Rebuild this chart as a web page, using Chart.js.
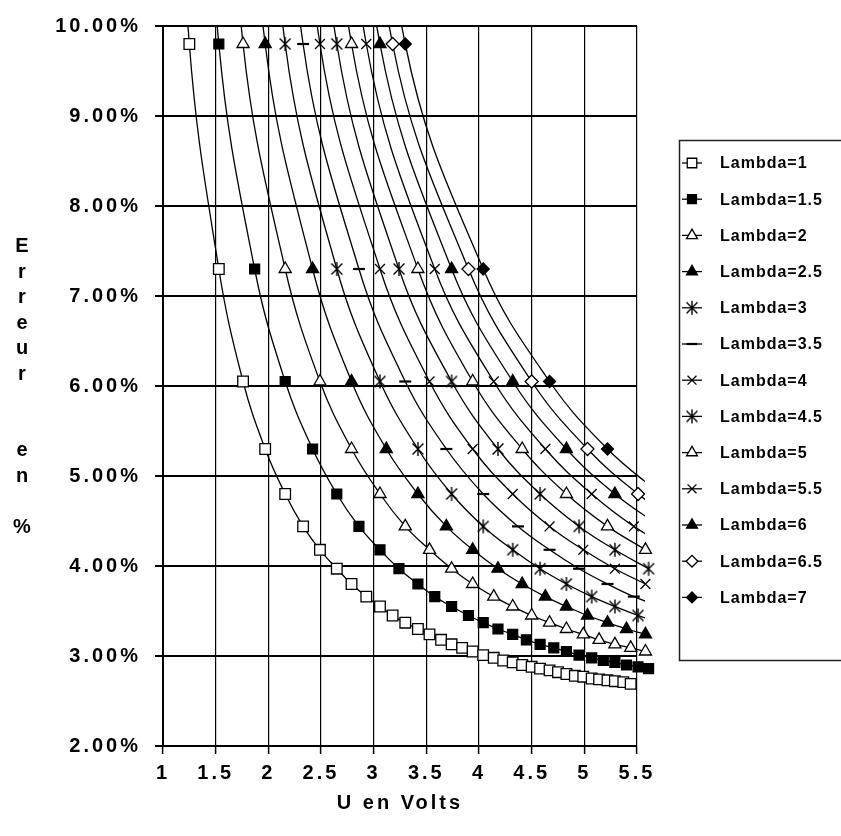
<!DOCTYPE html>
<html><head><meta charset="utf-8">
<script src="https://cdn.jsdelivr.net/npm/chart.js@4.4.1/dist/chart.umd.min.js"></script>
<style>html,body{margin:0;padding:0;background:#fff;}canvas{display:block;}</style>
</head><body>
<canvas id="c" width="841" height="836"></canvas>
<script>
// ---- data ----
const lambdas = [1, 1.5, 2, 2.5, 3, 3.5, 4, 4.5, 5, 5.5, 6, 6.5, 7];
// shared error levels (%) of the successive points of every curve
const errorPct = [17.3, 9.8, 7.3, 6.05, 5.3, 4.8, 4.44, 4.18, 3.97, 3.8, 3.66, 3.55, 3.45, 3.37, 3.3,
  3.24, 3.18, 3.13, 3.09, 3.05, 3.01, 2.98, 2.95, 2.93, 2.9, 2.88, 2.86, 2.84, 2.82, 2.8,
  2.78, 2.77, 2.75, 2.74, 2.73, 2.72, 2.71, 2.69];
// U (Volts) of each point, per Lambda (a value beyond ~5.65 V only shows as a line leaving the frame)
const uL1   = [0.88, 1.25, 1.53, 1.76, 1.97, 2.16, 2.33, 2.49, 2.65, 2.79, 2.93, 3.06, 3.18, 3.30, 3.42, 3.53, 3.64, 3.74, 3.84, 3.94, 4.04, 4.14, 4.23, 4.32, 4.41, 4.50, 4.58, 4.67, 4.75, 4.83, 4.91, 4.99, 5.07, 5.14, 5.22, 5.29, 5.37, 5.44];
const uL1_5 = [1.08, 1.53, 1.87, 2.16, 2.42, 2.65, 2.86, 3.06, 3.24, 3.42, 3.58, 3.74, 3.90, 4.04, 4.18, 4.32, 4.45, 4.58, 4.71, 4.83, 4.95, 5.07, 5.18, 5.29, 5.40, 5.51, 5.61];
const uL2   = [1.25, 1.76, 2.16, 2.49, 2.79, 3.06, 3.30, 3.53, 3.74, 3.94, 4.14, 4.32, 4.50, 4.67, 4.83, 4.99, 5.14, 5.29, 5.44, 5.58];
const uL2_5 = [1.39, 1.97, 2.42, 2.79, 3.12, 3.42, 3.69, 3.94, 4.18, 4.41, 4.63, 4.83, 5.03, 5.22, 5.40, 5.58];
const uL3   = [1.53, 2.16, 2.65, 3.06, 3.42, 3.74, 4.04, 4.32, 4.58, 4.83, 5.07, 5.29, 5.51, 5.72];
const uL3_5 = [1.65, 2.33, 2.86, 3.30, 3.69, 4.04, 4.37, 4.67, 4.95, 5.22, 5.47, 5.72];
const uL4   = [1.76, 2.49, 3.06, 3.53, 3.94, 4.32, 4.67, 4.99, 5.29, 5.58];
const uL4_5 = [1.87, 2.65, 3.24, 3.74, 4.18, 4.58, 4.95, 5.29, 5.61];
const uL5   = [1.97, 2.79, 3.42, 3.94, 4.41, 4.83, 5.22, 5.58];
const uL5_5 = [2.07, 2.93, 3.58, 4.14, 4.63, 5.07, 5.47, 5.85];
const uL6   = [2.16, 3.06, 3.74, 4.32, 4.83, 5.29, 5.72];
const uL6_5 = [2.25, 3.18, 3.90, 4.50, 5.03, 5.51, 5.95];
const uL7   = [2.33, 3.30, 4.04, 4.67, 5.22, 5.72];
const uSeries = [uL1, uL1_5, uL2, uL2_5, uL3, uL3_5, uL4, uL4_5, uL5, uL5_5, uL6, uL6_5, uL7];

const xMin = 1, xMax = 5.5, xStep = 0.5;
const yMin = 2, yMax = 10, yStep = 1;
const markerMaxU = 5.65;
const xTitle = 'U en Volts';
const yTitleLines = ['E', 'r', 'r', 'e', 'u', 'r', '', '', 'e', 'n', '', '%'];

// ---- styles ----
const FONT = 'Liberation Sans';
const RIGHT_OVERFLOW = 24;
function makeAsterisk(size, lw) {
  const c = document.createElement('canvas');
  c.width = size; c.height = size;
  const g = c.getContext('2d');
  g.strokeStyle = '#000'; g.lineWidth = lw;
  const m = size / 2, r = size / 2 - 1, d = r * 0.78;
  g.beginPath();
  g.moveTo(m - d, m - d); g.lineTo(m + d, m + d);
  g.moveTo(m + d, m - d); g.lineTo(m - d, m + d);
  g.moveTo(m, m - r); g.lineTo(m, m + r);
  g.stroke();
  return c;
}
const asterisk = makeAsterisk(16, 1.4);
const markerStyles = [
  {ps: 'rect', r: 7.5, fill: '#fff'},
  {ps: 'rect', r: 7, fill: '#000'},
  {ps: 'triangle', r: 7, fill: '#fff'},
  {ps: 'triangle', r: 7, fill: '#000'},
  {ps: asterisk, r: 7, fill: '#000'},
  {ps: 'line', r: 6, fill: '#000', bw: 2.2},
  {ps: 'crossRot', r: 7, fill: '#000'},
  {ps: asterisk, r: 7, fill: '#000'},
  {ps: 'triangle', r: 7, fill: '#fff'},
  {ps: 'crossRot', r: 7, fill: '#000'},
  {ps: 'triangle', r: 7, fill: '#000'},
  {ps: 'rectRot', r: 6.5, fill: '#fff'},
  {ps: 'rectRot', r: 6, fill: '#000'}
];

const datasets = lambdas.map((lam, i) => {
  const st = markerStyles[i];
  const u = uSeries[i];
  const leavesFrame = u[u.length - 1] > markerMaxU;
  return {
    label: 'Lambda=' + lam,
    data: u.map((v, k) => ({x: v, y: errorPct[k]})),
    borderColor: '#000',
    borderWidth: 1.3,
    backgroundColor: st.fill,
    pointStyle: st.ps,
    pointRadius: c => (c.raw && c.raw.x > markerMaxU) ? 0 : st.r,
    pointHoverRadius: c => (c.raw && c.raw.x > markerMaxU) ? 0 : st.r,
    pointBackgroundColor: st.fill,
    pointBorderColor: '#000',
    pointBorderWidth: st.bw || 1.3,
    tension: 0.4,
    fill: false,
    clip: {left: 0, top: 0, right: leavesFrame ? 8 : RIGHT_OVERFLOW, bottom: 0}
  };
});

const spacingPlugin = {
  id: 'spacing',
  beforeDraw(chart) { chart.ctx.letterSpacing = '3px'; },
  beforeDatasetsDraw(chart) {
    chart.ctx.letterSpacing = '0px';
    // let the last markers (U slightly above 5.5) show beyond the right border, as in the original
    chart.chartArea.right += RIGHT_OVERFLOW;
  },
  afterDatasetsDraw(chart) { chart.chartArea.right -= RIGHT_OVERFLOW; }
};

const decorPlugin = {
  id: 'decor',
  afterDraw(chart) {
    const ctx = chart.ctx;
    ctx.save();
    ctx.letterSpacing = '0px';
    ctx.fillStyle = '#000';
    ctx.font = 'bold 20px "' + FONT + '"';
    ctx.textAlign = 'center';
    ctx.textBaseline = 'alphabetic';
    yTitleLines.forEach((t, i) => { if (t) ctx.fillText(t, 22, 252 + i * 25.5); });

    // legend
    const lx = 679, ly = 140, lw = 200, lh = 520;
    ctx.strokeStyle = '#222';
    ctx.lineWidth = 1.5;
    ctx.strokeRect(lx + 0.5, ly + 0.5, lw, lh);
    ctx.font = 'bold 16px "' + FONT + '"';
    ctx.letterSpacing = '1px';
    ctx.textAlign = 'left';
    ctx.textBaseline = 'middle';
    chart.data.datasets.forEach((ds, i) => {
      const st = markerStyles[i];
      const y = 163 + i * 36.2;
      ctx.strokeStyle = '#000';
      ctx.lineWidth = 1.3;
      ctx.beginPath(); ctx.moveTo(682, y); ctx.lineTo(702, y); ctx.stroke();
      ctx.fillStyle = st.fill;
      ctx.lineWidth = ds.pointBorderWidth;
      Chart.helpers.drawPoint(ctx, {pointStyle: st.ps, radius: st.r * 0.9, rotation: 0, borderWidth: ds.pointBorderWidth}, 692, y);
      ctx.fillStyle = '#000';
      ctx.fillText(ds.label, 720, y + 1);
    });
    ctx.restore();
  }
};

const tickFont = {family: FONT, weight: 'bold', size: 20};
new Chart(document.getElementById('c'), {
  type: 'line',
  data: {datasets},
  options: {
    responsive: false,
    animation: false,
    events: [],
    layout: {padding: {top: 20, right: 204, bottom: 0, left: 0}},
    elements: {line: {capBezierPoints: false}},
    plugins: {legend: {display: false}, tooltip: {enabled: false}},
    scales: {
      x: {
        type: 'linear',
        afterDataLimits: s => { s.min = xMin; s.max = xMax; },
        ticks: {stepSize: xStep, autoSkip: false, maxRotation: 0, color: '#000', font: tickFont, padding: 7,
          callback: v => String(v)},
        grid: {color: '#000', lineWidth: 1.2, tickLength: 8, tickColor: '#000', tickWidth: 1.5},
        border: {color: '#000', width: 2},
        title: {display: true, text: xTitle, color: '#000', font: tickFont, padding: {top: 0, bottom: 21}},
        afterFit: s => { s.height = 90; }
      },
      y: {
        type: 'linear', min: yMin, max: yMax,
        ticks: {stepSize: yStep, color: '#000', font: tickFont, padding: 14,
          callback: v => v.toFixed(2) + '%'},
        grid: {color: '#000', lineWidth: 2, tickLength: 8, tickColor: '#000', tickWidth: 2},
        border: {color: '#000', width: 2},
        afterFit: s => { s.width = 163; }
      }
    }
  },
  plugins: [spacingPlugin, decorPlugin]
});
</script>
</body></html>
